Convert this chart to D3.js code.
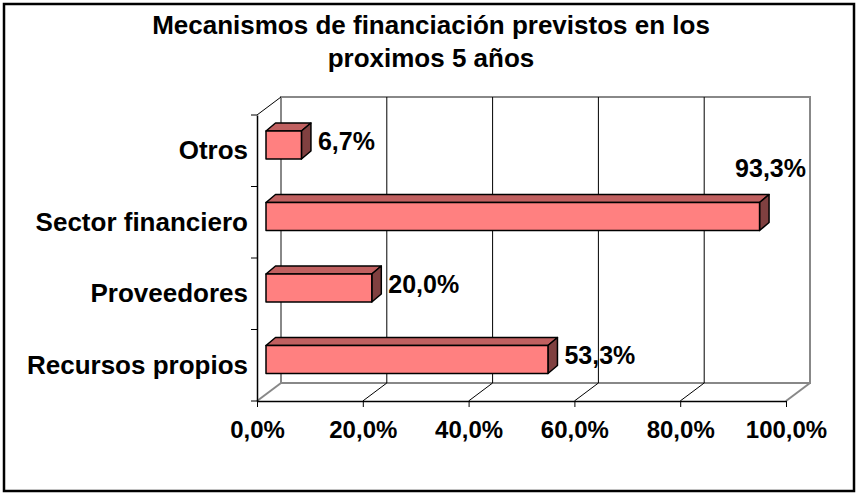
<!DOCTYPE html>
<html>
<head>
<meta charset="utf-8">
<script src="https://cdnjs.cloudflare.com/ajax/libs/d3/7.8.5/d3.min.js"></script>
<style>
  body { margin: 0; background: #fff; }
  text { font-family: "Liberation Sans", Arial, sans-serif; font-weight: bold; fill: #000; }
</style>
</head>
<body>
<svg id="chart" width="856" height="493"></svg>
<script>
var titleLines = ["Mecanismos de financiación previstos en los", "proximos 5 años"];
var categories = ["Otros", "Sector financiero", "Proveedores", "Recursos propios"];
var values = [6.7, 93.3, 20.0, 53.3];
var xTicks = [0, 20, 40, 60, 80, 100];

var plot = { left: 257, right: 786, top: 115, bottom: 401 };
var depth = { dx: 24, dy: 18 };
var bar = { shift: 9, dx: 9.5, dy: 8, top: 16, bottom: 44 };

var fmt = function(v) { return v.toFixed(1).replace(".", ",") + "%"; };

var x = d3.scaleLinear().domain([0, 100]).range([plot.left, plot.right]);
var y = d3.scaleBand().domain(categories).range([plot.top, plot.bottom]);

var svg = d3.select("#chart");

// outer frame
svg.append("rect").attr("x", 4).attr("y", 4).attr("width", 850).attr("height", 487)
  .attr("fill", "#fff").attr("stroke", "#000").attr("stroke-width", 2.5);

// title
svg.append("text").attr("text-anchor", "middle").style("font-size", "26px")
  .selectAll("tspan").data(titleLines).enter().append("tspan")
  .attr("x", 431).attr("y", function(d, i) { return 34 + i * 33; })
  .text(function(d) { return d; });

// walls and grid
var walls = svg.append("g").attr("class", "walls");
walls.append("rect")
  .attr("x", plot.left + depth.dx).attr("y", plot.top - depth.dy)
  .attr("width", plot.right - plot.left).attr("height", plot.bottom - plot.top)
  .attr("fill", "none").attr("stroke", "#888").attr("stroke-width", 2);

walls.selectAll("line.grid").data(xTicks.slice(1, -1)).enter().append("line")
  .attr("class", "grid")
  .attr("x1", function(d) { return x(d) + depth.dx; }).attr("x2", function(d) { return x(d) + depth.dx; })
  .attr("y1", plot.top - depth.dy).attr("y2", plot.bottom - depth.dy)
  .attr("stroke", "#000").attr("stroke-width", 1);

walls.selectAll("line.floor").data(xTicks).enter().append("line")
  .attr("class", "floor")
  .attr("x1", function(d) { return x(d); }).attr("y1", plot.bottom)
  .attr("x2", function(d) { return x(d) + depth.dx; }).attr("y2", plot.bottom - depth.dy)
  .attr("stroke", function(d, i) { return (i === 0 || i === xTicks.length - 1) ? "#888" : "#000"; })
  .attr("stroke-width", function(d, i) { return (i === 0 || i === xTicks.length - 1) ? 2 : 1; });

walls.append("line")
  .attr("x1", plot.left).attr("y1", plot.top)
  .attr("x2", plot.left + depth.dx).attr("y2", plot.top - depth.dy)
  .attr("stroke", "#000").attr("stroke-width", 1);

// x axis
var xAxis = d3.axisBottom(x).tickValues(xTicks).tickFormat(fmt)
  .tickSize(6).tickSizeOuter(0).tickPadding(14);
var gx = svg.append("g").attr("transform", "translate(0," + plot.bottom + ")").call(xAxis);
gx.select(".domain").attr("stroke", "#000").attr("stroke-width", 1.5);
gx.selectAll(".tick line").attr("stroke", "#000");
gx.selectAll(".tick text").style("font-size", "24px").attr("fill", "#000")
  .attr("font-family", null);

// y axis
var yAxis = d3.axisLeft(y).tickSize(0).tickSizeOuter(0).tickPadding(9);
var gy = svg.append("g").attr("transform", "translate(" + plot.left + ",0)").call(yAxis);
gy.select(".domain").attr("stroke", "#000").attr("stroke-width", 1.5);
gy.selectAll(".tick text").style("font-size", "26px").attr("fill", "#000")
  .attr("font-family", null);
gy.selectAll("line.bound").data(categories.map(function(c) { return y(c); }).concat([plot.bottom]))
  .enter().append("line").attr("class", "bound")
  .attr("x1", -6).attr("x2", 0).attr("y1", function(d) { return d; }).attr("y2", function(d) { return d; })
  .attr("stroke", "#000");

// bars
var data = categories.map(function(c, i) { return { cat: c, value: values[i] }; });
var bars = svg.selectAll("g.bar").data(data).enter().append("g").attr("class", "bar")
  .attr("stroke", "#000").attr("stroke-width", 1.5).attr("stroke-linejoin", "round");

var geom = function(d) {
  return { x0: x(0) + bar.shift, x1: x(d.value) + bar.shift, y0: y(d.cat) + bar.top, y1: y(d.cat) + bar.bottom };
};

bars.append("polygon").attr("fill", "#C06060").attr("points", function(d) {
  var g = geom(d);
  return [[g.x0, g.y0], [g.x0 + bar.dx, g.y0 - bar.dy], [g.x1 + bar.dx, g.y0 - bar.dy], [g.x1, g.y0]].join(" ");
});
bars.append("polygon").attr("fill", "#804040").attr("points", function(d) {
  var g = geom(d);
  return [[g.x1, g.y0], [g.x1 + bar.dx, g.y0 - bar.dy], [g.x1 + bar.dx, g.y1 - bar.dy], [g.x1, g.y1]].join(" ");
});
bars.append("rect").attr("fill", "#FF8080")
  .attr("x", function(d) { return geom(d).x0; })
  .attr("y", function(d) { return geom(d).y0; })
  .attr("width", function(d) { var g = geom(d); return g.x1 - g.x0; })
  .attr("height", bar.bottom - bar.top);

// value labels
svg.selectAll("text.value").data(data).enter().append("text").attr("class", "value")
  .style("font-size", "25px")
  .each(function(d) {
    var g = geom(d), t = d3.select(this);
    var lx = g.x1 + bar.dx + 7;
    if (lx + 75 > plot.right + depth.dx) {
      t.attr("text-anchor", "end").attr("x", plot.right + depth.dx - 4).attr("y", g.y0 - 26);
    } else {
      t.attr("x", lx).attr("y", y(d.cat) + y.bandwidth() / 2 - 1);
    }
  })
  .text(function(d) { return fmt(d.value); });
</script>
</body>
</html>
